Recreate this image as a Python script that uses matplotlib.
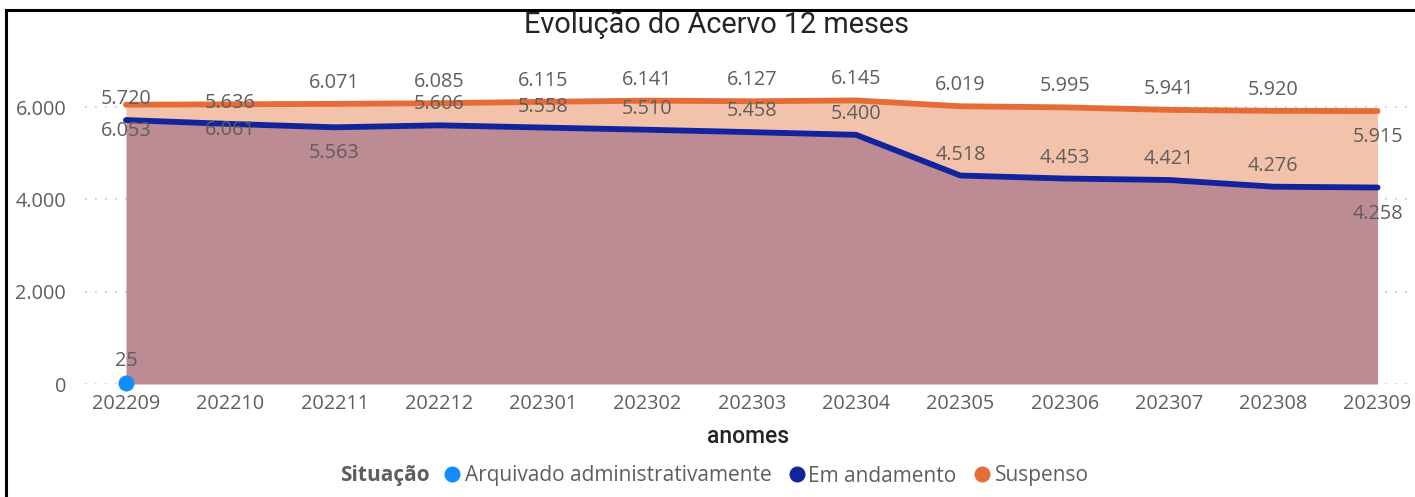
import matplotlib
matplotlib.use("Agg")
import matplotlib.pyplot as plt
from matplotlib.lines import Line2D

# ---------------- data ----------------
months = ["202209", "202210", "202211", "202212", "202301", "202302", "202303",
          "202304", "202305", "202306", "202307", "202308", "202309"]
em_andamento = [5720, 5636, 5563, 5606, 5558, 5510, 5458, 5400, 4518, 4453, 4421, 4276, 4258]
suspenso = [6053, 6061, 6071, 6085, 6115, 6141, 6127, 6145, 6019, 5995, 5941, 5920, 5915]
arquivado = [25]  # only 202209
y_ticks = [0, 2000, 4000, 6000]
series_names = ["Arquivado administrativamente", "Em andamento", "Suspenso"]

# label side: +1 above, -1 below (as placed in the reference)
em_label_side = [1, 1, -1, 1, 1, 1, 1, 1, 1, 1, 1, 1, -1]
su_label_side = [-1, -1, 1, 1, 1, 1, 1, 1, 1, 1, 1, 1, -1]

# ---------------- style ----------------
C_ORANGE = "#E66C37"
C_BLUE = "#12239E"
C_LBLUE = "#118DFF"
C_UPPER = "#F3C2AB"
C_LOWER = "#BC8B94"
C_TEXT = "#605E5C"
C_DARK = "#252423"
FONT = ["Open Sans", "DejaVu Sans"]
plt.rcParams["font.family"] = FONT

W, H = 1415, 497
fig = plt.figure(figsize=(W / 100, H / 100), dpi=100)
ax = fig.add_axes([85 / W, (H - 384) / H, (1412 - 85) / W, (384 - 61) / H])

x = list(range(len(months)))
ax.fill_between(x, 0, em_andamento, color=C_LOWER, lw=0, zorder=1)
ax.fill_between(x, em_andamento, suspenso, color=C_UPPER, lw=0, zorder=1)
ax.plot(x, suspenso, color=C_ORANGE, lw=4.2, solid_joinstyle="round", solid_capstyle="round", zorder=3)
ax.plot(x, em_andamento, color=C_BLUE, lw=4.2, solid_joinstyle="round", solid_capstyle="round", zorder=3)
ax.plot([0], arquivado, "o", color=C_LBLUE, ms=10.5, zorder=4, clip_on=False)

fmt = lambda v: f"{v:,}".replace(",", ".")
LBL = 14.3
for i in x:
    off = 21 if em_label_side[i] > 0 else -26
    ax.annotate(fmt(em_andamento[i]), (i, em_andamento[i]), xytext=(0, off),
                textcoords="offset pixels", ha="center", va="center",
                fontsize=LBL, color=C_TEXT, zorder=5)
    off = 21 if su_label_side[i] > 0 else -26
    ax.annotate(fmt(suspenso[i]), (i, suspenso[i]), xytext=(0, off),
                textcoords="offset pixels", ha="center", va="center",
                fontsize=LBL, color=C_TEXT, zorder=5)
ax.annotate(fmt(arquivado[0]), (0, arquivado[0]), xytext=(0, 22),
            textcoords="offset pixels", ha="center", va="center",
            fontsize=LBL, color=C_TEXT, zorder=5)

ax.set_xlim(-0.393, 12.33)
ax.set_ylim(0, 7000)
ax.set_xticks(x)
ax.set_xticklabels(months)
ax.set_yticks(y_ticks)
ax.set_yticklabels([fmt(v) for v in y_ticks])
ax.tick_params(axis="both", length=0, labelsize=LBL, colors=C_TEXT)
ax.tick_params(axis="y", pad=13.5)
ax.tick_params(axis="x", pad=7)
for s in ax.spines.values():
    s.set_visible(False)
ax.yaxis.grid(True, color="#C8C6C4", ls=(0, (1, 5)), lw=1.2, zorder=0)
ax.set_axisbelow(True)
ax.set_xlabel("anomes", fontsize=16.5, color=C_DARK, labelpad=8,
              fontweight="medium", family=["Roboto", "DejaVu Sans"])

fig.text(717 / W, 1 - 33 / H, "Evolução do Acervo 12 meses", ha="center", va="baseline",
         fontsize=20.8, color=C_DARK, family=["Roboto", "DejaVu Sans"])

# legend (manual, Power BI style)
ly = 1 - 476 / H
fig.text(340 / W, ly, "Situação", ha="left", va="center", fontsize=15,
         color=C_TEXT, fontweight="bold")
items = [(452, 465, series_names[0], C_LBLUE),
         (797, 808, series_names[1], C_BLUE),
         (982, 995, series_names[2], C_ORANGE)]
for dx, tx, name, col in items:
    fig.add_artist(Line2D([dx / W], [1 - 474 / H], marker="o", ms=10.5, color=col, ls="none",
                          transform=fig.transFigure))
    fig.text(tx / W, ly, name, ha="left", va="center", fontsize=15, color=C_TEXT)

# border
fig.add_artist(Line2D([6 / W, 6 / W], [0, 1 - 10 / H], color="black", lw=2.2,
                      transform=fig.transFigure, solid_capstyle="projecting"))
fig.add_artist(Line2D([6 / W, 1], [1 - 10 / H, 1 - 10 / H], color="black", lw=2.2,
                      transform=fig.transFigure, solid_capstyle="projecting"))

fig.savefig("out.png", dpi=100, facecolor="white")
